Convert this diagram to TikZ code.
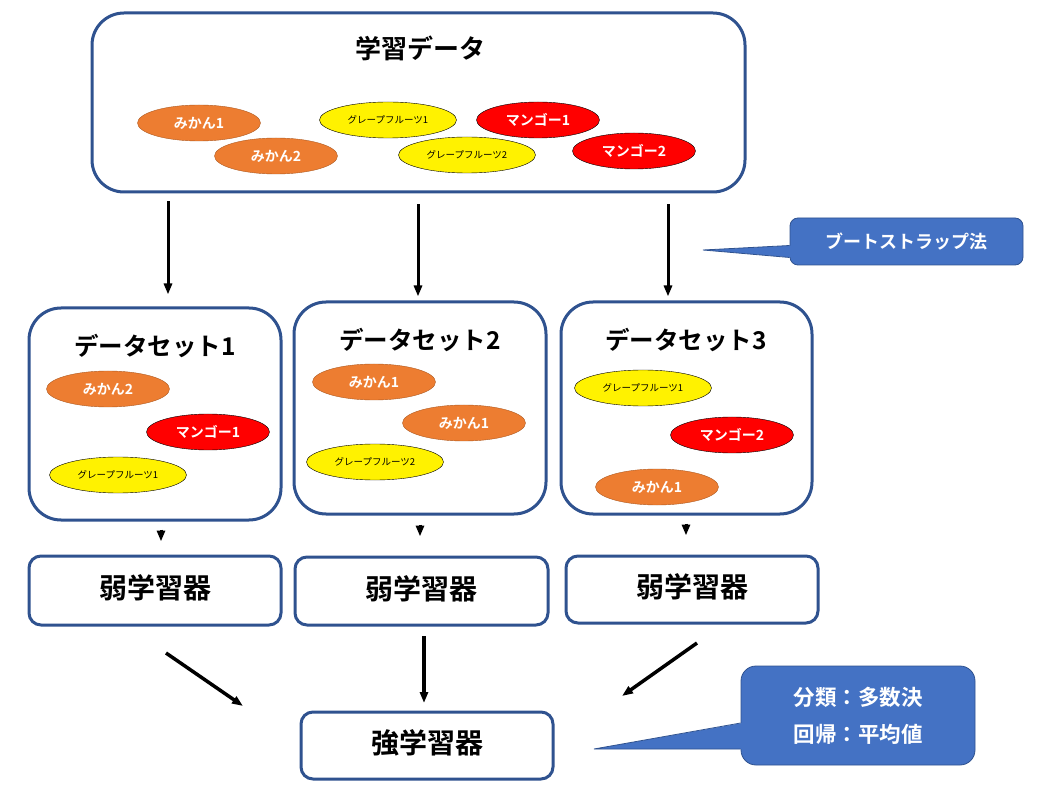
\documentclass[tikz,border=0pt]{standalone}
\usepackage{fontspec}
\setmainfont{Noto Sans CJK JP}[BoldFont={Noto Sans CJK JP Bold}]
\usetikzlibrary{positioning,arrows.meta,shapes.geometric,calc}
\definecolor{tkFrame}{RGB}{47,82,143}
\definecolor{tkOrange}{RGB}{237,125,49}
\definecolor{tkOrangeLine}{RGB}{174,90,33}
\definecolor{tkBlue}{RGB}{68,114,196}
\definecolor{tkBlueLine}{RGB}{47,82,143}
\newcommand{\setpx}[1]{\fontsize{#1}{#1}\selectfont}

\begin{document}
\begin{tikzpicture}[
  x=1pt, y=-1pt,
  frame/.style={draw=tkFrame, line width=3pt, fill=white, inner sep=0pt},
  bigbox/.style={frame, rounded corners=32pt},
  smallbox/.style={frame, rounded corners=12pt, font=\bfseries\setpx{28}, text depth=7pt},
  title/.style={font=\bfseries\setpx{26}, inner sep=0pt},
  fruit/.style={ellipse, minimum width=123pt, minimum height=36pt, inner sep=0pt, font=\bfseries\setpx{14}, text=white},
  mikan/.style={fruit, fill=tkOrange, draw=tkOrangeLine},
  mango/.style={fruit, fill=red, draw=black},
  grape/.style={fruit, minimum width=137pt, fill=yellow, draw=black, text=black, font=\setpx{9.5}},
  arr/.style={-{Triangle[length=11pt,width=8pt]}, line width=3pt},
  callout/.style={fill=tkBlue, draw=tkBlueLine, line width=0.8pt, text=white, align=center},
]
\useasboundingbox (0,0) rectangle (1037,794);
% training data
\node[bigbox, minimum width=653pt, minimum height=179pt] (data) at (418.5,102.5) {};
\node[title] (datatitle) at (420,48) {学習データ};
\node[mikan] (dmk1) at (199,123) {みかん1};
\node[mikan] (dmk2) at (276,156) {みかん2};
\node[grape] (dgr1) at (388,120) {グレープフルーツ1};
\node[grape] (dgr2) at (467,155) {グレープフルーツ2};
\node[mango] (dmg1) at (538,120) {マンゴー1};
\node[mango] (dmg2) at (634,151) {マンゴー2};
% datasets
\node[bigbox, minimum width=252pt, minimum height=212pt] (ds1) at (155,414) {};
\node[bigbox, minimum width=252pt, minimum height=212pt] (ds2) at (420,408) {};
\node[bigbox, minimum width=251pt, minimum height=212pt] (ds3) at (686.5,408) {};
\node[title, font=\bfseries\setpx{24.5}] (ds1title) at (155,346) {データセット1};
\node[title, font=\bfseries\setpx{24.5}] (ds2title) at (420,340) {データセット2};
\node[title, font=\bfseries\setpx{24.5}] (ds3title) at (686,340) {データセット3};
\node[mikan] (s1mk2) at (108,389) {みかん2};
\node[mango] (s1mg1) at (208,432) {マンゴー1};
\node[grape] (s1gr1) at (118,475) {グレープフルーツ1};
\node[mikan] (s2mk1) at (374,382) {みかん1};
\node[mikan] (s2mk1b) at (464,423) {みかん1};
\node[grape] (s2gr2) at (375,462) {グレープフルーツ2};
\node[grape] (s3gr1) at (643,388) {グレープフルーツ1};
\node[mango] (s3mg2) at (732,435) {マンゴー2};
\node[mikan] (s3mk1) at (657,487) {みかん1};
% learners
\node[smallbox, minimum width=252pt, minimum height=69pt] (wl1) at (155,590.5) {弱学習器};
\node[smallbox, minimum width=253pt, minimum height=68pt] (wl2) at (421.5,591) {弱学習器};
\node[smallbox, minimum width=252pt, minimum height=67pt] (wl3) at (692,589.5) {弱学習器};
\node[smallbox, minimum width=252pt, minimum height=67pt] (strong) at (427,745.5) {強学習器};
% callouts
\node[callout, rounded corners=8pt, minimum width=233pt, minimum height=47pt, font=\bfseries\setpx{18}] (boot) at (906.5,241.5) {ブートストラップ法};
\coordinate (boottip) at (703,250);
\fill[tkBlue] (boottip) -- ([xshift=2pt,yshift=-4pt]boot.west) -- ([xshift=2pt,yshift=-16pt]boot.west) -- cycle;
\draw[tkBlueLine, line width=0.8pt] ([yshift=-4pt]boot.west) -- (boottip) -- ([yshift=-16pt]boot.west);
\node[callout, rounded corners=15pt, minimum width=234pt, minimum height=99pt, font=\bfseries\fontsize{21.5}{37}\selectfont] (vote) at (858,715.5) {分類：多数決\\回帰：平均値};
\coordinate (votetip) at (594,749);
\fill[tkBlue] (votetip) -- ([xshift=2pt,yshift=-7.5pt]vote.west) -- ([xshift=2pt,yshift=-33.5pt]vote.west) -- cycle;
\draw[tkBlueLine, line width=0.8pt] ([yshift=-7.5pt]vote.west) -- (votetip) -- ([yshift=-33.5pt]vote.west);
% arrows
\coordinate (c1) at (168,0);
\coordinate (c2) at (418,0);
\coordinate (c3) at (668,0);
\draw[arr, shorten <=8pt, shorten >=12pt] (data.south -| c1) -- (ds1.north -| c1);
\draw[arr, shorten <=11pt, shorten >=4pt] (data.south -| c2) -- (ds2.north -| c2);
\draw[arr, shorten <=11pt, shorten >=4pt] (data.south -| c3) -- (ds3.north -| c3);
\coordinate (e1) at (161,0);
\coordinate (e2) at (420,0);
\coordinate (e3) at (686,0);
\draw[arr, shorten <=8pt, shorten >=13pt] (ds1.south -| e1) -- (wl1.north -| e1);
\draw[arr, shorten <=9pt, shorten >=19pt] (ds2.south -| e2) -- (wl2.north -| e2);
\draw[arr, shorten <=8pt, shorten >=19pt] (ds3.south -| e3) -- (wl3.north -| e3);
\coordinate (v1s) at (166,653);
\coordinate (v1e) at (243,706);
\coordinate (v2s) at (424,636);
\coordinate (v2e) at (424,703);
\coordinate (v3s) at (697,643);
\coordinate (v3e) at (622,696);
\draw[arr, line width=3.5pt] (v1s) -- (v1e);
\draw[arr, line width=3.5pt] (v2s) -- (v2e);
\draw[arr, line width=3.5pt] (v3s) -- (v3e);
\end{tikzpicture}
\end{document}
